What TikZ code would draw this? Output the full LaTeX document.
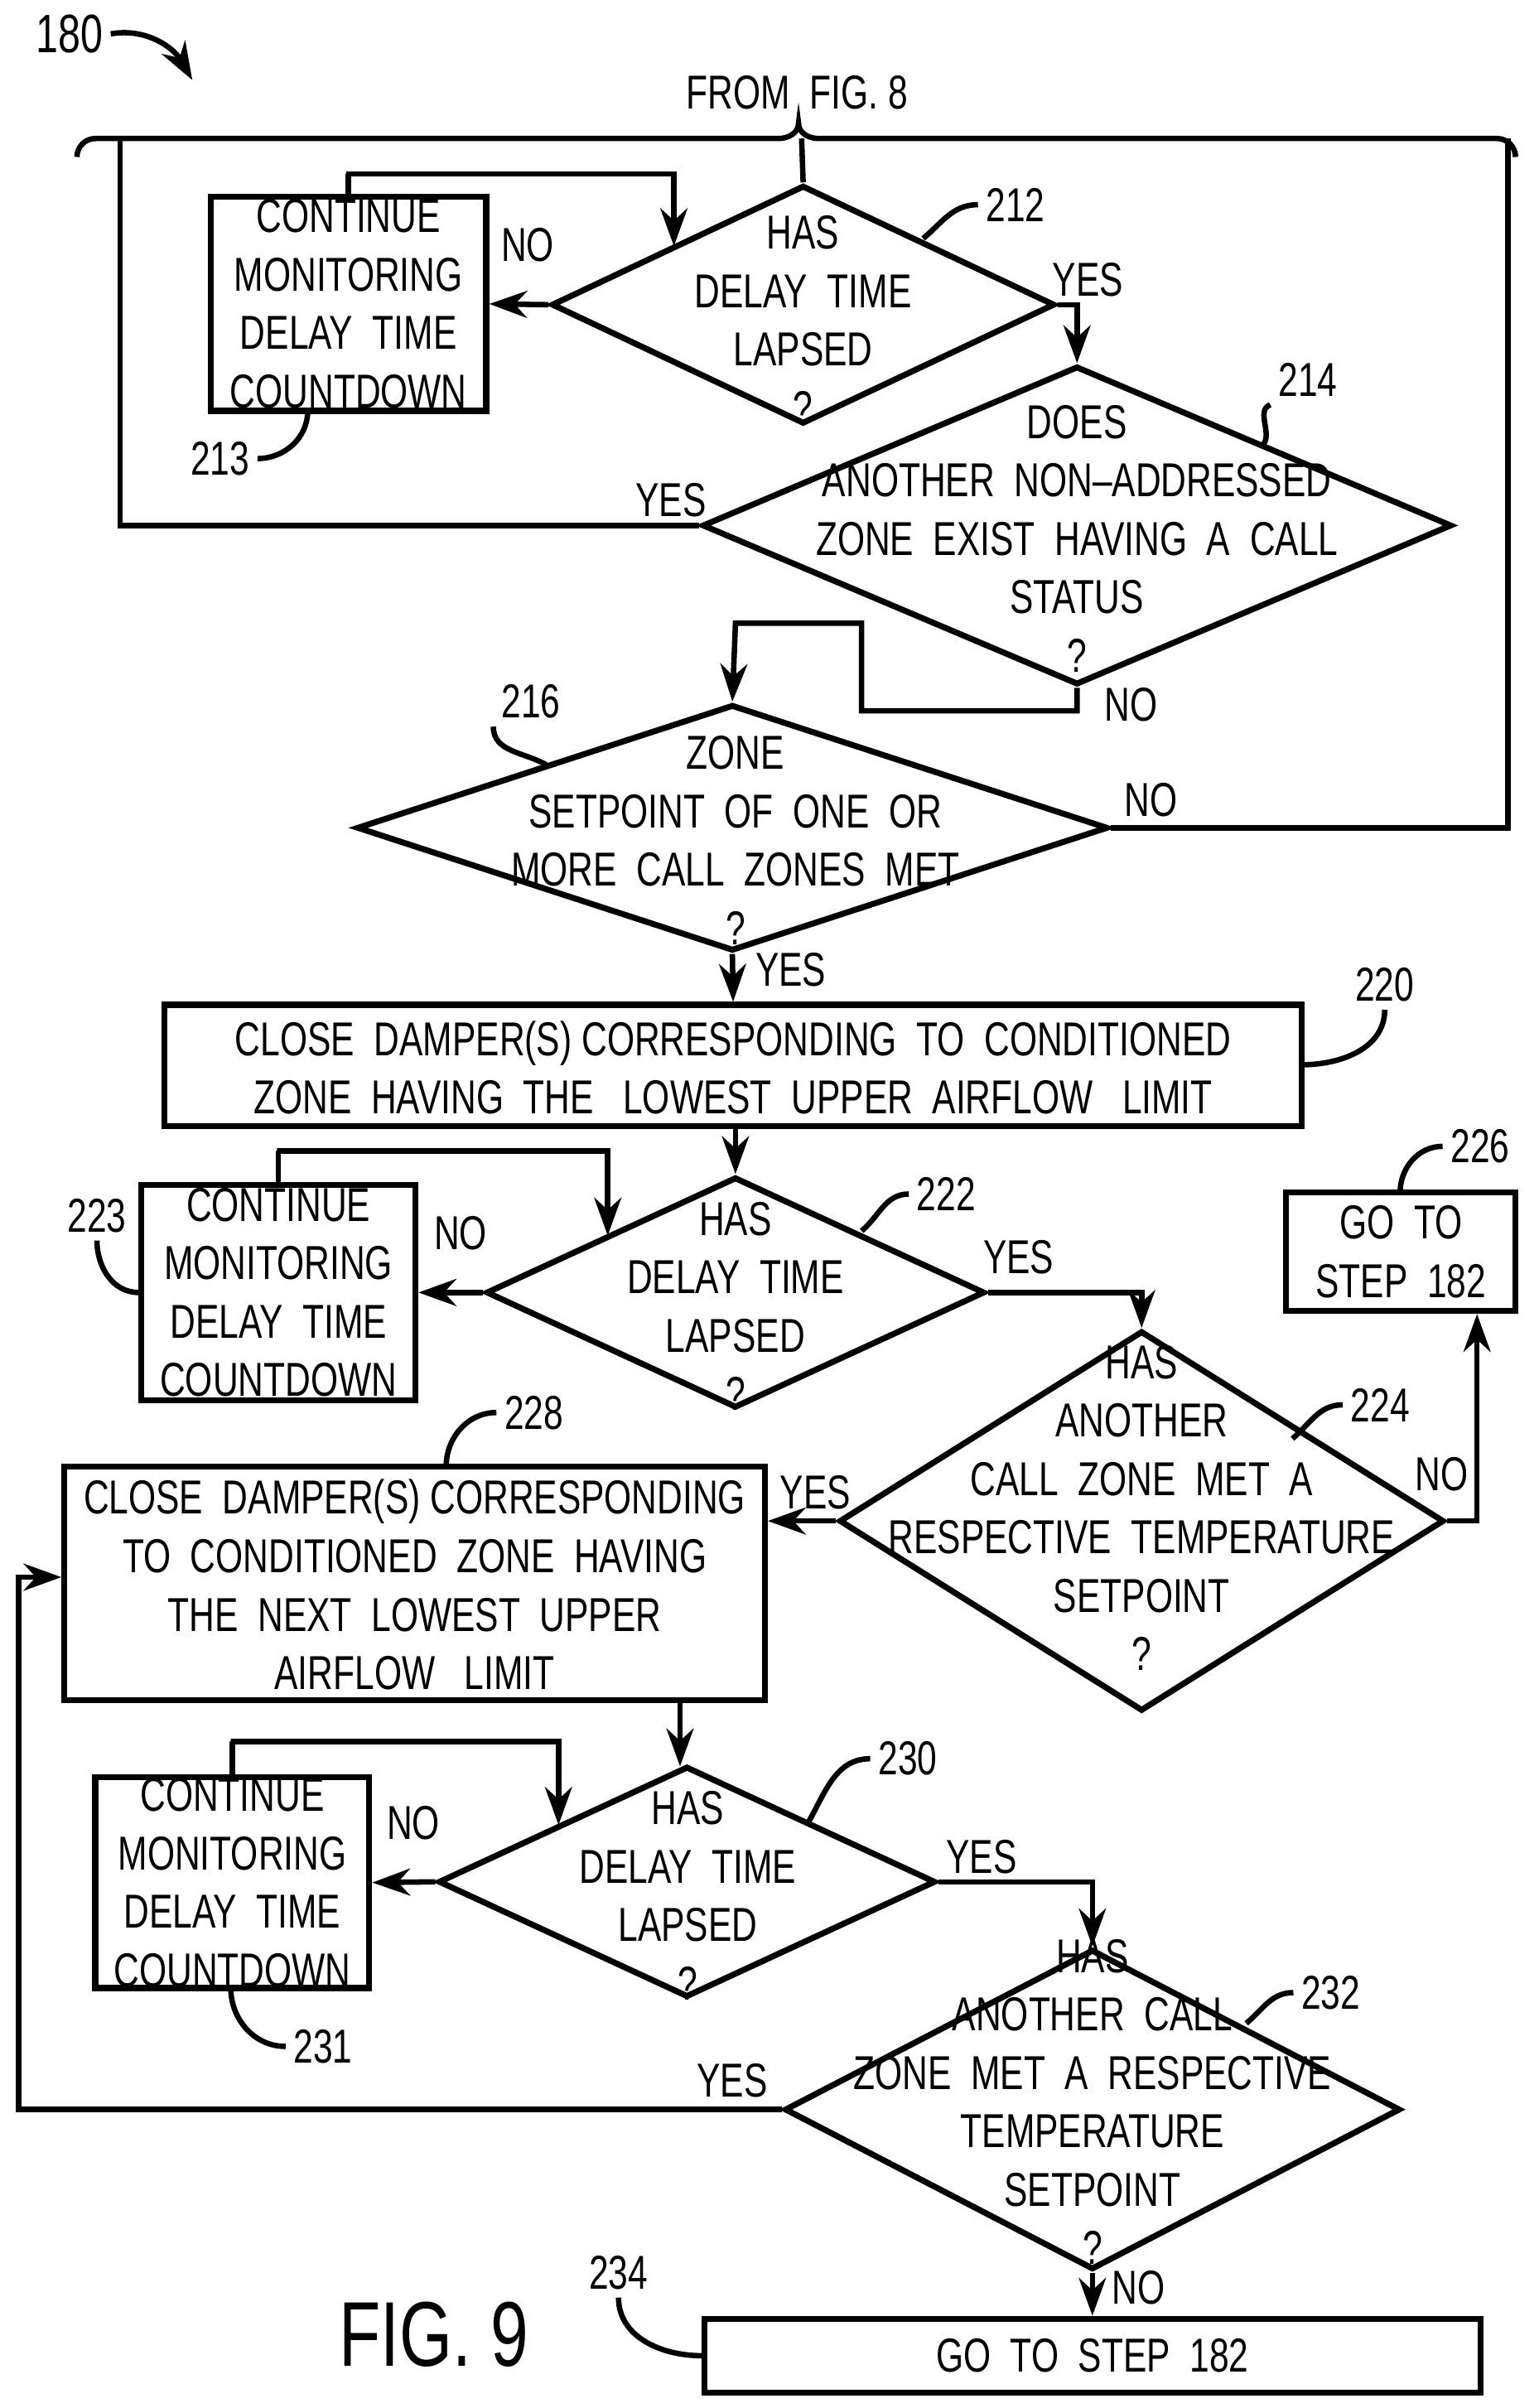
\documentclass[tikz,border=0pt]{standalone}
\usepackage{fontspec}
\setmainfont{Liberation Sans}[FakeStretch=0.74]
\usetikzlibrary{shapes.geometric,arrows.meta}
\begin{document}
\begin{tikzpicture}[x=0.01cm,y=-0.01cm,line width=1pt,
  every node/.style={font=\fontsize{8.8}{9.8}\selectfont},
  txt/.style={align=center,inner sep=0pt},
  box/.style={draw,line width=1.1pt},
  dia/.style={draw,diamond,inner sep=0pt,line width=1.1pt},
  arr/.style={-{Stealth[length=7pt,width=5pt]}},
  lab/.style={inner sep=1pt}]
\useasboundingbox (0,0) rectangle (1000,1565);
% header
\node[lab,font=\fontsize{10}{11}\selectfont] (n180) at (45,22) {180};
\coordinate (c180) at (125,52);
\draw[arr] (n180.east) to[out=10,in=120] (c180);
\node[lab] (from) at (518,60) {FROM\ \ FIG. 8};
\coordinate (bl) at (50,102); \coordinate (br) at (985,102); \coordinate (bt) at (519,80);
\draw (bl) to[out=90,in=180] (62,90) -- (506,90) to[out=0,in=-90] (bt)
      to[out=-90,in=180] (532,90) -- (973,90) to[out=0,in=90] (br);
\coordinate (bm) at (521,90);
\coordinate (blt) at (78,90); \coordinate (brt) at (980,90);
% 212
\node[dia,minimum width=3.27cm,minimum height=1.55cm] (d212) at (522,198) {};
\node[txt] (t212) at (522,208) {HAS\\[1pt]DELAY\ \ TIME\\[1pt]LAPSED\\[1pt]?};
\draw (bm) -- (d212.north);
\node[box,minimum width=1.79cm,minimum height=1.39cm] (b213) at (226.5,197.5) {};
\node[txt] (t213) at (226.5,197.5) {CONTINUE\\[1pt]MONITORING\\[1pt]DELAY\ \ TIME\\[1pt]COUNTDOWN};
\node[lab] (l213) at (143,298) {213};
\draw (l213.east) to[out=0,in=-90] (200,267);
\node[lab] (l212) at (660,133) {212};
\draw (l212.west) to[out=180,in=40] (600,155);
\draw[arr] (d212.west) -- (b213.east) node[pos=0.35,above=4pt] {NO};
\coordinate (p213a) at (438,160);
\draw[arr] (b213.north) |- (225,113) -| (p213a);
% 214
\node[dia,minimum width=4.87cm,minimum height=2.07cm] (d214) at (700,341.5) {};
\node[txt] (t214) at (700,350) {DOES\\[1pt]ANOTHER\ \ NON–ADDRESSED\\[1pt]ZONE\ \ EXIST\ \ HAVING\ \ A\ \ CALL\\[1pt]STATUS\\[1pt]?};
\draw[arr] (d212.east) -- (700,198) -- (d214.north);
\node[lab] (yes212) at (707,182) {YES};
\node[lab] (l214) at (850,247) {214};
\draw (l214.south west) to[out=200,in=40] (820,290);
\draw (d214.west) -- (78,341.5) -- (blt);
\node[lab] (yes214) at (436,325) {YES};
% 216
\node[dia,minimum width=4.88cm,minimum height=1.6cm] (d216) at (476,538) {};
\node[txt] (t216) at (478,546) {ZONE\\[1pt]SETPOINT\ \ OF\ \ ONE\ \ OR\\[1pt]MORE\ \ CALL\ \ ZONES\ \ MET\\[1pt]?};
\draw[arr] (d214.south) -- (700,462) -- (560,462) -- (560,405) -- (478,405) -- (d216.north);
\node[lab] (no214) at (735,458) {NO};
\node[lab] (l216) at (345,456) {216};
\draw (l216.south west) to[out=-90,in=150] (355,497);
\draw (d216.east) -- (980,538) -- (brt);
\node[lab] (no216) at (748,520) {NO};
% 220
\node[box,minimum width=7.39cm,minimum height=0.79cm] (b220) at (476.5,692.5) {};
\node[txt] (t220) at (476.5,694) {CLOSE\ \ DAMPER(S)\ CORRESPONDING\ \ TO\ \ CONDITIONED\\[1pt]ZONE\ \ HAVING\ \ THE\ \ \ LOWEST\ \ UPPER\ \ AIRFLOW\ \ \ LIMIT};
\draw[arr] (d216.south) -- (b220.north);
\node[lab] (yes216) at (514,630) {YES};
\node[lab] (l220) at (900,640) {220};
\draw (l220.south) to[out=-90,in=0] (846,692);
% 222
\node[dia,minimum width=3.24cm,minimum height=1.5cm] (d222) at (478,840) {};
\node[txt] (t222) at (478,849) {HAS\\[1pt]DELAY\ \ TIME\\[1pt]LAPSED\\[1pt]?};
\draw[arr] (b220.south -| d222.north) -- (d222.north);
\node[box,minimum width=1.78cm,minimum height=1.4cm] (b223) at (181,840) {};
\node[txt] (t223) at (181,840) {CONTINUE\\[1pt]MONITORING\\[1pt]DELAY\ \ TIME\\[1pt]COUNTDOWN};
\node[lab] (l223) at (63,790) {223};
\draw (l223.south) to[out=-90,in=180] (b223.west);
\node[lab] (l222) at (615,776) {222};
\draw (l222.west) to[out=180,in=40] (560,800);
\draw[arr] (d222.west) -- (b223.east) node[pos=0.35,above=4pt] {NO};
\coordinate (p223a) at (395,803);
\draw[arr] (b223.north) |- (180,748) -| (p223a);
% 224
\node[dia,minimum width=3.93cm,minimum height=2.47cm] (d224) at (742,988.5) {};
\node[txt] (t224) at (742,980) {HAS\\[1pt]ANOTHER\\[1pt]CALL\ \ ZONE\ \ MET\ \ A\\[1pt]RESPECTIVE\ \ TEMPERATURE\\[1pt]SETPOINT\\[1pt]?};
\draw[arr] (d222.east) -- (742,840) -- (d224.north);
\node[lab] (yes222) at (662,817) {YES};
\node[lab] (l224) at (897,913) {224};
\draw (l224.west) to[out=180,in=40] (840,935);
\node[box,minimum width=1.49cm,minimum height=0.77cm] (b226) at (910.5,813.5) {};
\node[txt] (t226) at (910.5,813.5) {GO\ \ TO\\[1pt]STEP\ \ 182};
\node[lab] (l226) at (962,745) {226};
\draw (l226.west) to[out=180,in=90] (910,775);
\draw[arr] (d224.east) -- (960,988.5) -- (b226.south -| 960,0);
\node[lab] (no224) at (937,958) {NO};
% 228
\node[box,minimum width=4.55cm,minimum height=1.52cm] (b228) at (269.5,1029) {};
\node[txt] (t228) at (269.5,1030) {CLOSE\ \ DAMPER(S) CORRESPONDING\\[1pt]TO\ \ CONDITIONED\ \ ZONE\ \ HAVING\\[1pt]THE\ \ NEXT\ \ LOWEST\ \ UPPER\\[1pt]AIRFLOW\ \ \ LIMIT};
\draw[arr] (d224.west) -- (b228.east |- d224.west);
\node[lab] (yes224) at (530,970) {YES};
\node[lab] (l228) at (347,918) {228};
\draw (l228.west) to[out=180,in=90] (290,953);
% 230
\node[dia,minimum width=3.23cm,minimum height=1.5cm] (d230) at (446.5,1223) {};
\node[txt] (t230) at (447,1232) {HAS\\[1pt]DELAY\ \ TIME\\[1pt]LAPSED\\[1pt]?};
\draw[arr] (442,1105) -- (442,1148);
\node[box,minimum width=1.78cm,minimum height=1.37cm] (b231) at (151,1223.5) {};
\node[txt] (t231) at (151,1223.5) {CONTINUE\\[1pt]MONITORING\\[1pt]DELAY\ \ TIME\\[1pt]COUNTDOWN};
\node[lab] (l231) at (210,1330) {231};
\draw (l231.west) to[out=180,in=-90] (150,1292);
\node[lab] (l230) at (590,1143) {230};
\draw (l230.west) to[out=180,in=60] (525,1185);
\draw[arr] (d230.west) -- (b231.east) node[pos=0.35,above=4pt] {NO};
\coordinate (p231a) at (363,1186);
\draw[arr] (b231.north) |- (150,1132) -| (p231a);
% 232
\node[dia,minimum width=4.0cm,minimum height=2.08cm] (d232) at (710,1371) {};
\node[txt] (t232) at (710,1366) {HAS\\[1pt]ANOTHER\ \ CALL\\[1pt]ZONE\ \ MET\ \ A\ \ RESPECTIVE\\[1pt]TEMPERATURE\\[1pt]SETPOINT\\[1pt]?};
\draw[arr] (d230.east) -- (710,1223) -- (d232.north);
\node[lab] (yes230) at (638,1207) {YES};
\node[lab] (l232) at (865,1295) {232};
\draw (l232.west) to[out=180,in=40] (810,1315);
\draw[arr] (d232.west) -- (12,1371) -- (12,1025) -- (b228.west |- 0,1025);
\node[lab] (yes232) at (476,1352) {YES};
% 234
\node[box,minimum width=5.04cm,minimum height=0.48cm] (b234) at (710,1531) {};
\node[txt] (t234) at (710,1531) {GO\ \ TO\ \ STEP\ \ 182};
\draw[arr] (d232.south) -- (b234.north);
\node[lab] (no232) at (740,1487) {NO};
\node[lab] (l234) at (402,1477) {234};
\draw (l234.south) to[out=-90,in=180] (b234.west);
\node[lab,font=\fontsize{17}{18}\selectfont] (fig) at (282,1517) {FIG. 9};
\end{tikzpicture}
\end{document}
